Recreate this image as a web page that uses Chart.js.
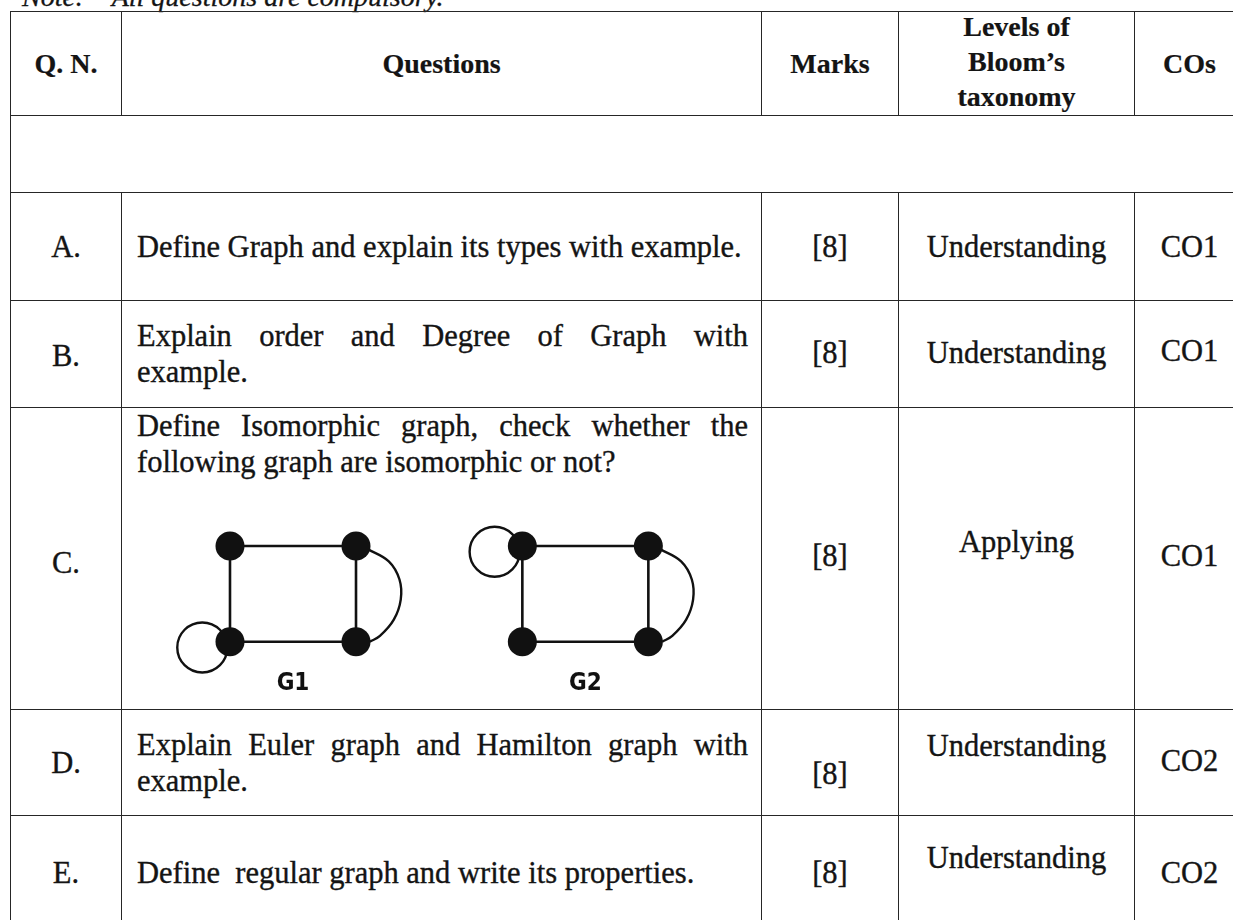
<!DOCTYPE html>
<html>
<head>
<meta charset="utf-8">
<script src="https://cdn.jsdelivr.net/npm/chart.js@4.4.1/dist/chart.umd.min.js"></script>
<style>
  html, body { margin:0; padding:0; background:#fff; }
  body { width:1233px; height:920px; overflow:hidden; position:relative; font-family:"Liberation Serif","Times New Roman",serif; color:#141414; }
  #note { position:absolute; left:22px; top:-17px; font-style:italic; font-size:28px; line-height:28px; white-space:pre; -webkit-text-stroke:0.3px #141414; }
  #tbl { position:absolute; left:10px; top:11px; border-collapse:collapse; table-layout:fixed; width:1234px; }
  #tbl td { border:1.6px solid #262626; padding:0; text-align:center; vertical-align:middle; font-size:30.5px; line-height:36px; white-space:pre; -webkit-text-stroke:0.35px #141414; }
  #tbl tr.head td { font-weight:bold; font-size:28px; line-height:35px; -webkit-text-stroke:0.2px #141414; }
  #tbl tr.head td .sh { margin:-4px 0; }
  #tbl td.q { text-align:left; padding:0 13px 0 15px; }
  #tbl td.q div.j { text-align:justify; text-align-last:justify; white-space:normal; }
  #tbl td.top { vertical-align:top; }
  .sh { position:relative; display:inline-block; }
  #fig { position:absolute; left:122px; top:480px; width:638px; height:228px; }
</style>
</head>
<body>
<div id="note">Note:    All questions are compulsory.</div>
<table id="tbl"><colgroup id="cols"></colgroup><tbody id="tb"></tbody></table>
<div id="fig"><canvas id="c" width="638" height="228"></canvas></div>
<script>
// ---------- table content ----------
const headers = ['Q. N.', 'Questions', 'Marks', 'Levels of\nBloom\u2019s\ntaxonomy', 'COs'];
const qIds = ['A.', 'B.', 'C.', 'D.', 'E.'];
const questionLines = [
  ['Define Graph and explain its types with example.'],
  ['Explain order and Degree of Graph with', 'example.'],
  ['Define Isomorphic graph, check whether the', 'following graph are isomorphic or not?'],
  ['Explain Euler graph and Hamilton graph with', 'example.'],
  ['Define  regular graph and write its properties.']
];
const marks = [8, 8, 8, 8, 8];
const bloomLevels = ['Understanding', 'Understanding', 'Applying', 'Understanding', 'Understanding'];
const courseOutcomes = ['CO1', 'CO1', 'CO1', 'CO2', 'CO2'];

// ---------- figure (question C) data, in graph units ----------
const graphNames = ['G1', 'G2'];
const g1NodeX = [0, 1, 0, 1];          // TL, TR, BL, BR
const g1NodeY = [1, 1, 0, 0];
const g2NodeX = [2.32, 3.32, 2.32, 3.32];
const g2NodeY = [1, 1, 0, 0];
const squareEdges = [[0, 1], [0, 2], [1, 3], [2, 3]];
const loopAtNode = [2, 0];             // G1: bottom-left, G2: top-left
const arcBetween = [1, 3];             // parallel curved edge TR-BR
const arcDx = [0.09, 0.26, 0.345, 0.355, 0.30, 0.19, 0.11];
const arcDy = [0.97, 0.84, 0.65, 0.44, 0.23, 0.06, 0.0];
const loopDx = -0.22, loopDy = -0.06;
const labelDx = 0.5, labelY = -0.437;

// ---------- layout (styles only) ----------
const colWidths = [111, 640, 137, 236, 110];
const rowHeights = { head: 104, blank: 77, rows: [108, 107, 302, 106, 115] };
const headShift = 0;
const shift = {
  id:    [0, 2, 4, 0, 0],
  marks: [0, -1, -3, 11, 0],
  bloom: [0, -1, -17, -17, -15],
  co:    [0, -3, -3, -2, 0]
};

const cols = document.getElementById('cols');
colWidths.forEach(w => { const c = document.createElement('col'); c.style.width = w + 'px'; cols.appendChild(c); });
const tb = document.getElementById('tb');
function cell(tr, html, cls, dy, forceWrap) {
  const td = document.createElement('td');
  if (cls) td.className = cls;
  td.innerHTML = (dy || forceWrap) ? '<span class="sh" style="top:' + (dy || 0) + 'px">' + html + '</span>' : html;
  tr.appendChild(td); return td;
}
// header
let tr = document.createElement('tr'); tr.className = 'head'; tr.style.height = rowHeights.head + 'px';
headers.forEach(h => cell(tr, h.replace(/\n/g, '<br>'), '', headShift, true));
tb.appendChild(tr);
// blank row
tr = document.createElement('tr'); tr.style.height = rowHeights.blank + 'px';
const blank = cell(tr, ''); blank.colSpan = 5; tb.appendChild(tr);
// question rows
qIds.forEach((id, i) => {
  tr = document.createElement('tr'); tr.style.height = rowHeights.rows[i] + 'px';
  cell(tr, id, '', shift.id[i]);
  const lines = questionLines[i];
  const qhtml = lines.map((l, k) => '<div class="' + (k < lines.length - 1 ? 'j' : '') + '">' + l + '</div>').join('');
  cell(tr, qhtml, i === 2 ? 'q top' : 'q');
  cell(tr, '[' + marks[i] + ']', '', shift.marks[i]);
  cell(tr, bloomLevels[i], '', shift.bloom[i]);
  cell(tr, courseOutcomes[i], '', shift.co[i]);
  tb.appendChild(tr);
});

// ---------- figure with Chart.js ----------
const ink = '#111';
const graphs = [
  { x: g1NodeX, y: g1NodeY, loop: loopAtNode[0] },
  { x: g2NodeX, y: g2NodeY, loop: loopAtNode[1] }
];
const datasets = [];
graphs.forEach((g, gi) => {
  datasets.push({
    data: g.x.map((v, k) => ({ x: v, y: g.y[k] })),
    showLine: false, pointRadius: 14.5, pointBackgroundColor: ink, pointBorderWidth: 0, order: 0
  });
  squareEdges.forEach(([a, b]) => {
    datasets.push({
      data: [{ x: g.x[a], y: g.y[a] }, { x: g.x[b], y: g.y[b] }],
      showLine: true, pointRadius: 0, borderColor: ink, borderWidth: 2.6, order: 1
    });
  });
  const [ta, tbn] = arcBetween;
  datasets.push({
    data: arcDx.map((d, k) => ({ x: g.x[ta] + d, y: g.y[tbn] + arcDy[k] })),
    showLine: true, pointRadius: 0, borderColor: ink, borderWidth: 2.4, tension: 0.4, order: 1
  });
  datasets.push({
    data: [{ x: g.x[g.loop] + loopDx, y: g.y[g.loop] + loopDy }],
    showLine: false, pointRadius: 25, pointBackgroundColor: 'rgba(0,0,0,0)', pointBorderColor: ink, pointBorderWidth: 2.4, order: 1
  });
});

const labelPlugin = {
  id: 'graphLabels',
  afterDatasetsDraw(chart) {
    const { ctx, scales } = chart;
    ctx.save();
    ctx.fillStyle = ink;
    ctx.font = 'bold 24px "DejaVu Sans Condensed", "DejaVu Sans", Verdana, sans-serif';
    ctx.textAlign = 'center'; ctx.textBaseline = 'middle';
    graphs.forEach((g, gi) => {
      ctx.fillText(graphNames[gi], scales.x.getPixelForValue(g.x[0] + labelDx), scales.y.getPixelForValue(labelY));
    });
    ctx.restore();
  }
};

new Chart(document.getElementById('c'), {
  type: 'scatter',
  data: { datasets },
  options: {
    responsive: false, animation: false, devicePixelRatio: 1, events: [],
    layout: { padding: 0, autoPadding: false },
    plugins: { legend: { display: false }, tooltip: { enabled: false } },
    scales: {
      x: { type: 'linear', display: false, min: -0.857, max: 4.206 },
      y: { type: 'linear', display: false, min: -0.693, max: 1.69 }
    },
    clip: false
  },
  plugins: [labelPlugin]
});
</script>
</body>
</html>
